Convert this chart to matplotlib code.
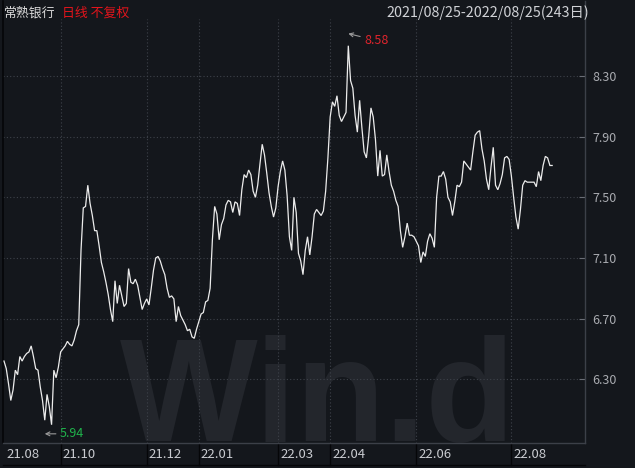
import matplotlib
matplotlib.use("Agg")
import matplotlib.pyplot as plt
import matplotlib.transforms as mtransforms
import numpy as np

plt.rcParams['font.family'] = ['Noto Sans CJK SC', 'DejaVu Sans']

# ---- data ----
title_name = "常熟银行"
title_mode = "日线 不复权"
date_range = "2021/08/25-2022/08/25(243日)"

close = [
    6.42, 6.37, 6.27, 6.16, 6.23, 6.36, 6.33, 6.45, 6.42, 6.45,
    6.47, 6.48, 6.52, 6.45, 6.37, 6.36, 6.25, 6.16, 6.03, 6.20,
    6.12, 6.00, 6.36, 6.31, 6.38, 6.48, 6.50, 6.52, 6.55, 6.53,
    6.52, 6.56, 6.62, 6.66, 7.15, 7.43, 7.44, 7.58, 7.46, 7.38,
    7.28, 7.28, 7.18, 7.07, 7.01, 6.94, 6.86, 6.76, 6.68, 6.95,
    6.80, 6.92, 6.85, 6.78, 6.80, 7.03, 6.94, 6.93, 6.96, 6.92,
    6.84, 6.76, 6.80, 6.83, 6.79, 6.90, 7.02, 7.10, 7.11, 7.08,
    7.03, 6.99, 6.90, 6.84, 6.85, 6.83, 6.68, 6.78, 6.72, 6.69,
    6.66, 6.62, 6.63, 6.58, 6.57, 6.63, 6.68, 6.73, 6.74, 6.81,
    6.82, 6.90, 7.22, 7.44, 7.39, 7.22, 7.32, 7.36, 7.45, 7.48,
    7.47, 7.40, 7.47, 7.46, 7.38, 7.55, 7.65, 7.63, 7.68, 7.65,
    7.54, 7.50, 7.58, 7.72, 7.85, 7.78, 7.66, 7.53, 7.44, 7.37,
    7.43, 7.57, 7.67, 7.74, 7.68, 7.51, 7.24, 7.15, 7.50, 7.40,
    7.13, 7.08, 6.99, 7.15, 7.24, 7.12, 7.24, 7.39, 7.42, 7.40,
    7.38, 7.41, 7.54, 7.76, 8.03, 8.13, 8.10, 8.17, 8.04, 8.00,
    8.03, 8.06, 8.50, 8.27, 8.22, 8.04, 7.93, 8.14, 7.96, 7.80,
    7.76, 7.90, 8.09, 8.03, 7.88, 7.64, 7.81, 7.64, 7.65, 7.78,
    7.67, 7.58, 7.54, 7.48, 7.44, 7.28, 7.17, 7.24, 7.33, 7.25,
    7.25, 7.24, 7.21, 7.18, 7.07, 7.14, 7.11, 7.21, 7.26, 7.23,
    7.17, 7.50, 7.64, 7.64, 7.67, 7.62, 7.50, 7.47, 7.38, 7.47,
    7.58, 7.57, 7.60, 7.74, 7.72, 7.70, 7.68, 7.80, 7.91, 7.93,
    7.94, 7.82, 7.74, 7.62, 7.55, 7.70, 7.83, 7.58, 7.55, 7.59,
    7.65, 7.76, 7.77, 7.75, 7.64, 7.50, 7.37, 7.29, 7.42, 7.58,
    7.61, 7.60, 7.60, 7.60, 7.60, 7.57, 7.67, 7.61, 7.71, 7.77,
    7.76, 7.71, 7.71,
]

low_idx, low_val = 18, 5.94
high_idx, high_val = 152, 8.58

xtick_idx = [0, 25, 63, 86, 121, 144, 182, 224]
xtick_labels = ["21.08", "21.10", "21.12", "22.01", "22.03", "22.04", "22.06", "22.08"]
ytick_vals = [6.30, 6.70, 7.10, 7.50, 7.90, 8.30]
ytick_labels = ["6.30", "6.70", "7.10", "7.50", "7.90", "8.30"]

# ---- style ----
BG = '#14171c'
GRID = '#3e424a'
AXIS = '#3c4048'
LINE = '#ececec'
TXT = '#a9abb0'

W, H = 635, 468
fig = plt.figure(figsize=(W / 100, H / 100), dpi=100, facecolor=BG)

left_px, right_px, top_px, bot_px = 3, 585, 1, 443
ax = fig.add_axes([left_px / W, 1 - bot_px / H, (right_px - left_px) / W, (bot_px - top_px) / H])
ax.set_facecolor(BG)

n = len(close)
x = np.arange(n)
ax.set_xlim(-0.44, 256.5)
ax.set_ylim(5.8795, 8.795)

# watermark
ax.text(0.200, 0.006, "Win.d", transform=ax.transAxes, fontsize=105,
        fontfamily='Liberation Sans', fontweight='bold', color='#23262c',
        ha='left', va='baseline', zorder=0, clip_on=True)

# grid
for v in ytick_vals:
    ax.axhline(v, color=GRID, lw=0.8, ls=(0, (1, 2)), zorder=1)
for xi in xtick_idx[1:]:
    ax.vlines(xi, ax.get_ylim()[0], 8.676, color=GRID, lw=0.8, ls=(0, (1, 2)), zorder=1)

# main line
ax.plot(x, close, color=LINE, lw=0.9, zorder=3, solid_joinstyle='miter')

# annotations
ax.annotate(f"{low_val:.2f}", xy=(low_idx, low_val), xytext=(11, 0), textcoords='offset points',
            color='#1fb34b', fontsize=9, ha='left', va='center',
            arrowprops=dict(arrowstyle='->', color='#9a9a9a', lw=0.8, shrinkA=1, shrinkB=0,
                            mutation_scale=7))
ax.annotate(f"{high_val:.2f}", xy=(high_idx, high_val), xytext=(11.5, -5), textcoords='offset points',
            color='#e0242c', fontsize=9, ha='left', va='center',
            arrowprops=dict(arrowstyle='->', color='#9a9a9a', lw=0.8, shrinkA=1, shrinkB=0,
                            mutation_scale=7))

# spines
for s in ['top', 'bottom']:
    ax.spines[s].set_visible(False)
ax.spines['left'].set_color('#050608')
ax.spines['left'].set_linewidth(1.2)
ax.spines['right'].set_color(AXIS)
ax.spines['right'].set_linewidth(1.0)
ax.axhline(ax.get_ylim()[0], color=AXIS, lw=1.0, zorder=4, clip_on=False)

# y ticks
ax.yaxis.tick_right()
ax.set_yticks(ytick_vals)
ax.set_yticklabels(ytick_labels)
ax.tick_params(axis='y', direction='in', length=4, width=0.8, color='#6a6e76',
               labelcolor=TXT, labelsize=9, pad=5)
ax.set_xticks([])

# x tick band
trans = mtransforms.blended_transform_factory(ax.transData, ax.transAxes)
band = -(465 - 443) / (bot_px - top_px)
for xi, lab in zip(xtick_idx, xtick_labels):
    if xi != 0:
        ax.plot([xi, xi], [0, band], transform=trans, color='#050608', lw=1.0, clip_on=False)
    t = mtransforms.offset_copy(trans, fig=fig, x=2, y=0, units='dots')
    ax.text(xi, band / 2 - 0.001, lab, transform=t, ha='left', va='center',
            color='#c9cbd0', fontsize=9.5)
ax.plot([-0.44, 256.5], [band, band], transform=trans, color='#050608', lw=1.0, clip_on=False)

# header
fig.text(4 / W, 1 - 13 / H, title_name, color='#d8d8d8', fontsize=9.3, ha='left', va='center')
fig.text(62 / W, 1 - 13 / H, title_mode, color='#e3141b', fontsize=9.3, ha='left', va='center')
fig.text(589 / W, 1 - 13 / H, date_range, color='#d0d2d6', fontsize=10.3, ha='right', va='center')

fig.savefig("out.png", dpi=100, facecolor=BG)
